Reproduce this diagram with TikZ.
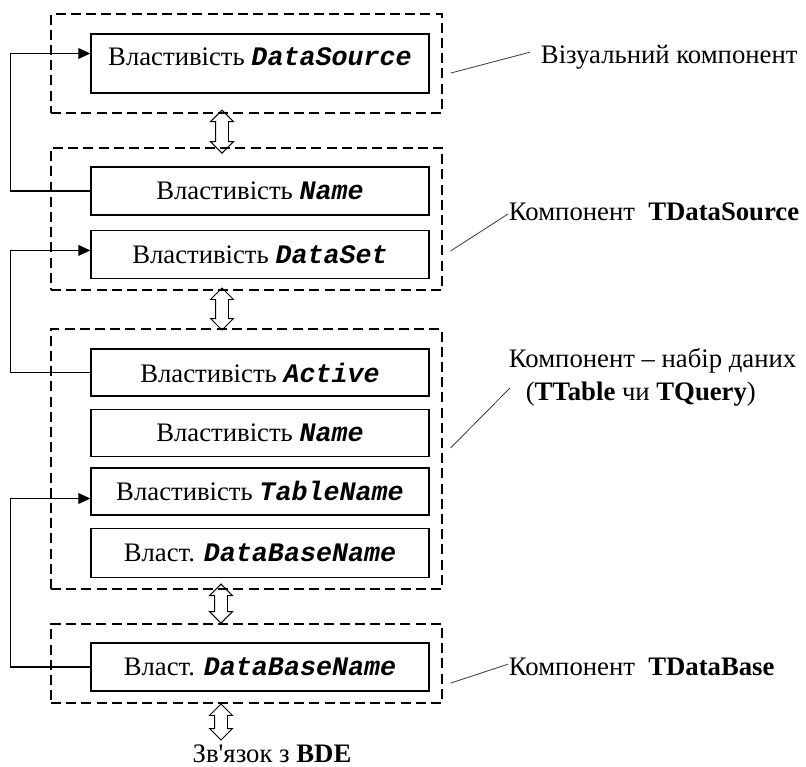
\documentclass[tikz,border=0pt]{standalone}
\usepackage{fontspec}
\setmainfont{Liberation Serif}
\setmonofont{Liberation Mono}
\usepackage{tikz}
\usetikzlibrary{
  arrows.meta,
  calc,
  fit,
  positioning,
  shapes.arrows
}
\newcommand{\pname}[1]{{\ttfamily\bfseries\itshape #1}}

\begin{document}
\begin{tikzpicture}[
  prop/.style={rectangle, draw, line width=1pt, minimum height=1.2cm, minimum width=8.45cm, font=\fontsize{19}{23}\selectfont},
  group/.style={rectangle, draw, dashed, dash pattern=on 0.25cm off 0.13cm, line width=0.8pt, inner sep=0pt},
  dblarrow/.style={double arrow, draw, line width=0.7pt, rotate=90, inner xsep=0pt, inner ysep=0.15cm, double arrow head extend=0.125cm, minimum height=1.05cm},
  lbl/.style={font=\fontsize{19}{23.4}\selectfont, align=left},
  link/.style={-{Triangle[length=0.3cm, width=0.27cm]}, line width=0.8pt},
  leader/.style={line width=0.6pt, black!75},
]
\useasboundingbox (0,0) rectangle (20.15,-19.175);

% Property boxes
\node[prop, minimum height=1.475cm, text depth=0.35cm] (b1) at (6.5,-1.5875) {Властивість \pname{DataSource}};

\node[prop] (b2) at (6.5,-4.775) {Властивість \pname{Name}};
\node[prop, below=0.35cm of b2] (b3) {Властивість \pname{DataSet}};

\node[prop, minimum height=1.175cm] (b4) at (6.5,-9.3125) {Властивість \pname{Active}};
\node[prop, minimum height=1.175cm, below=0.3cm of b4] (b5) {Властивість \pname{Name}};
\node[prop, minimum height=1.175cm, below=0.25cm of b5] (b6) {Властивість \pname{TableName}};
\node[prop, minimum height=1.225cm, below=0.3cm of b6] (b7) {Власт. \pname{DataBaseName}};

\node[prop] (b8) at (6.5,-16.675) {Власт. \pname{DataBaseName}};

% Components
\node[group, fit={(1.275,-0.35) (11.05,-2.825)}] (g1) {};
\node[group, fit={(1.275,-3.7) (11.05,-7.25)}] (g2) {};
\node[group, fit={(1.275,-8.225) (11.05,-14.725)}] (g3) {};
\node[group, fit={(1.275,-15.6) (11.05,-17.575)}] (g4) {};

% Two-way links
\node[dblarrow, minimum height=1.075cm] (a1) at (5.55,-3.29) {};
\node[dblarrow] (a2) at (5.55,-7.725) {};
\node[dblarrow, minimum height=0.975cm] (a3) at (5.525,-15.09) {};
\node[dblarrow, minimum height=0.9cm] (a4) at (5.525,-18.05) {};
\node[lbl, inner sep=0pt, anchor=base] (bde) at (6.8,-19.05) {Зв\textquotesingle язок з \textbf{BDE}};

% Component names
\node[lbl, anchor=west] (l1) at (13.4,-1.425) {Візуальний компонент};
\node[lbl, anchor=west] (l2) at (12.6,-5.3) {Компонент~~\textbf{TDataSource}};
\node[lbl, anchor=west] (l3) at (12.6,-9.44) {Компонент – набір даних\\\hspace*{0.42cm}(\textbf{TTable} чи \textbf{TQuery})};
\node[lbl, anchor=west] (l4) at (12.6,-16.675) {Компонент~~\textbf{TDataBase}};

\draw[leader] ([xshift=0.2cm, yshift=-0.24cm]g1.east) -- ([xshift=-0.15cm, yshift=0.12cm]l1.west);
\draw[leader] ([xshift=0.2cm, yshift=-0.8cm]g2.east) -- ([xshift=0.1cm, yshift=-0.05cm]l2.west);
\draw[leader] ([xshift=0.2cm, yshift=0.275cm]g3.east) -- ([xshift=0.15cm, yshift=-0.26cm]l3.west);
\draw[leader] ([xshift=0.2cm, yshift=-0.49cm]g4.east) -- ([xshift=0.1cm, yshift=0.07cm]l4.west);

% Property references
\draw[link] (b2.west) -- ++(-2,0) |- ([yshift=0.25cm]b1.west);
\draw[link] (b4.west) -- ++(-2,0) |- ([yshift=0.1cm]b3.west);
\draw[link] (b8.west) -- ++(-2,0) |- ([yshift=-0.18cm]b6.west);
\end{tikzpicture}
\end{document}
